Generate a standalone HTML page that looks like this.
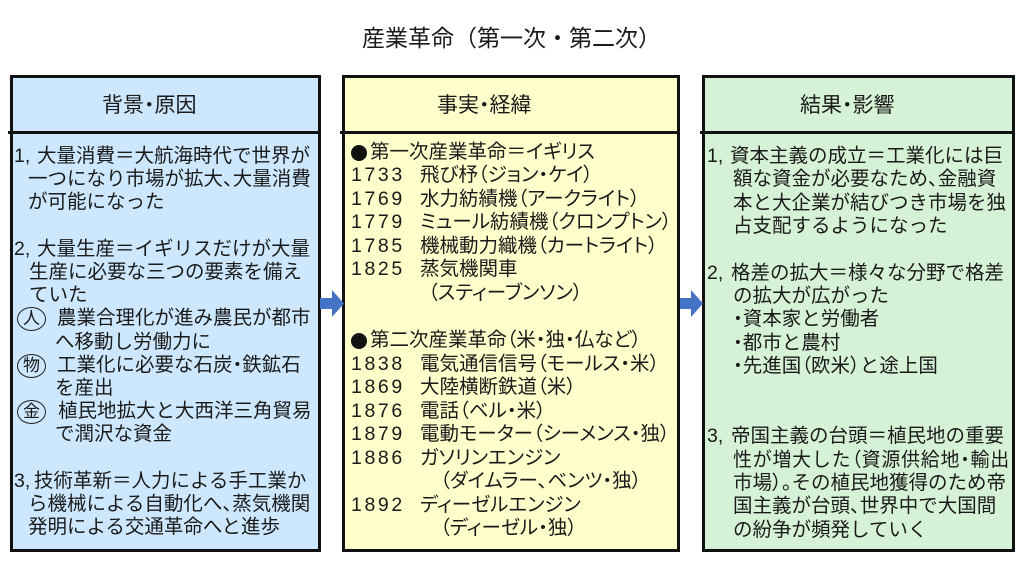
<!DOCTYPE html>
<html lang="ja">
<head>
<meta charset="utf-8">
<style>
html,body{margin:0;padding:0;background:#fff;}
body{position:relative;width:1024px;height:561px;overflow:hidden;
 font-family:"Liberation Sans","Noto Sans CJK JP",sans-serif;color:#1a1a1a;}
.box{position:absolute;top:75px;height:477px;box-sizing:border-box;border:3px solid #111;}
.div{position:absolute;top:131px;height:3px;background:#111;}
.ln{position:absolute;white-space:nowrap;font-size:19.5px;line-height:24px;height:24px;}
.g2 .ln{font-feature-settings:"palt";}
.g2 .ln.yr{font-feature-settings:normal;letter-spacing:2.6px;font-family:"Liberation Sans",sans-serif;}
.p{font-feature-settings:"palt";}
.pre{font-family:"Liberation Sans",sans-serif;}
.hd{position:absolute;white-space:nowrap;font-size:21px;line-height:26px;top:93px;font-feature-settings:"palt";}
.title{position:absolute;left:362px;top:23px;font-size:23px;line-height:30px;white-space:nowrap;}
.circ{position:absolute;box-sizing:border-box;width:29px;height:24px;border:1.4px solid #222;border-radius:50%;
 font-size:17px;line-height:21px;text-align:center;}
.dot{position:absolute;width:16px;height:16px;border-radius:50%;background:#111;}
</style>
</head>
<body>

<div class="title">産業革命（第一次・第二次）</div>

<!-- boxes -->
<div class="box" style="left:10px;width:311px;background:#CDE8FE;"></div>
<div class="div" style="left:8px;width:313px;"></div>
<div class="box" style="left:342px;width:338px;background:#FFFFCC;"></div>
<div class="div" style="left:340px;width:340px;"></div>
<div class="box" style="left:702px;width:313px;background:#D6F2D6;"></div>
<div class="div" style="left:700px;width:315px;"></div>

<!-- arrows -->
<svg style="position:absolute;left:0;top:0" width="1024" height="561">
 <polygon points="320,298 332,298 332,290 344,303.5 332,317 332,309 320,309" fill="#4472C4"/>
 <polygon points="680,298 691,298 691,290 703,303.5 691,317 691,309 680,309" fill="#4472C4"/>
</svg>

<!-- headers -->
<div class="hd" style="left:102px;">背景・原因</div>
<div class="hd" style="left:437px;">事実・経緯</div>
<div class="hd" style="left:800px;">結果・影響</div>

<!-- Box 1 -->
<div class="g1" id="g1">
 <div class="ln pre" style="left:14px;top:144px;">1,</div>
 <div class="ln" style="left:37px;top:144px;">大量消費＝大航海時代で世界が</div>
 <div class="ln" style="left:28px;top:167px;">一つになり市場が拡大<span class="p">、</span>大量消費</div>
 <div class="ln" style="left:28px;top:190px;">が可能になった</div>

 <div class="ln pre" style="left:14px;top:237px;">2,</div>
 <div class="ln" style="left:37px;top:237px;">大量生産＝イギリスだけが大量</div>
 <div class="ln" style="left:29px;top:260px;">生産に必要な三つの要素を備え</div>
 <div class="ln" style="left:29px;top:283px;">ていた</div>

 <div class="circ" style="left:17px;top:307px;">人</div>
 <div class="ln" style="left:57px;top:306px;">農業合理化が進み農民が都市</div>
 <div class="ln" style="left:55px;top:330px;">へ移動し労働力に</div>
 <div class="circ" style="left:17px;top:354px;">物</div>
 <div class="ln" style="left:57px;top:353px;">工業化に必要な石炭<span class="p">・</span>鉄鉱石</div>
 <div class="ln" style="left:55px;top:376px;">を産出</div>
 <div class="circ" style="left:17px;top:400px;">金</div>
 <div class="ln" style="left:58px;top:399px;">植民地拡大と大西洋三角貿易</div>
 <div class="ln" style="left:55px;top:422px;">で潤沢な資金</div>

 <div class="ln pre" style="left:14px;top:469px;">3,</div>
 <div class="ln" style="left:34px;top:469px;">技術革新＝人力による手工業か</div>
 <div class="ln" style="left:28px;top:492px;">ら機械による自動化へ<span class="p">、</span>蒸気機関</div>
 <div class="ln" style="left:28px;top:515px;">発明による交通革命へと進歩</div>
</div>

<!-- Box 2 -->
<div class="g2" id="g2">
 <div class="dot" style="left:351px;top:145px;"></div>
 <div class="ln" style="left:370px;top:140px;">第一次産業革命＝イギリス</div>
 <div class="ln yr" style="left:351px;top:163px;">1733</div>
 <div class="ln" style="left:420px;top:163px;">飛び杼（ジョン・ケイ）</div>
 <div class="ln yr" style="left:351px;top:187px;">1769</div>
 <div class="ln" style="left:420px;top:187px;">水力紡績機（アークライト）</div>
 <div class="ln yr" style="left:351px;top:210px;">1779</div>
 <div class="ln" style="left:420px;top:210px;">ミュール紡績機（クロンプトン）</div>
 <div class="ln yr" style="left:351px;top:234px;">1785</div>
 <div class="ln" style="left:420px;top:234px;">機械動力織機（カートライト）</div>
 <div class="ln yr" style="left:351px;top:257px;">1825</div>
 <div class="ln" style="left:420px;top:257px;">蒸気機関車</div>
 <div class="ln" style="left:428px;top:281px;">（スティーブンソン）</div>

 <div class="dot" style="left:351px;top:333px;"></div>
 <div class="ln" style="left:370px;top:328px;">第二次産業革命（米・独・仏など）</div>
 <div class="ln yr" style="left:351px;top:352px;">1838</div>
 <div class="ln" style="left:420px;top:352px;">電気通信信号（モールス・米）</div>
 <div class="ln yr" style="left:351px;top:375px;">1869</div>
 <div class="ln" style="left:420px;top:375px;">大陸横断鉄道（米）</div>
 <div class="ln yr" style="left:351px;top:399px;">1876</div>
 <div class="ln" style="left:420px;top:399px;">電話（ベル・米）</div>
 <div class="ln yr" style="left:351px;top:422px;">1879</div>
 <div class="ln" style="left:420px;top:422px;">電動モーター（シーメンス・独）</div>
 <div class="ln yr" style="left:351px;top:446px;">1886</div>
 <div class="ln" style="left:420px;top:446px;">ガソリンエンジン</div>
 <div class="ln" style="left:440px;top:469px;">（ダイムラー、ベンツ・独）</div>
 <div class="ln yr" style="left:351px;top:493px;">1892</div>
 <div class="ln" style="left:420px;top:493px;">ディーゼルエンジン</div>
 <div class="ln" style="left:440px;top:516px;">（ディーゼル・独）</div>
</div>

<!-- Box 3 -->
<div class="g3" id="g3">
 <div class="ln pre" style="left:707px;top:144px;">1,</div>
 <div class="ln" style="left:730px;top:144px;">資本主義の成立＝工業化には巨</div>
 <div class="ln" style="left:733px;top:167px;">額な資金が必要なため<span class="p">、</span>金融資</div>
 <div class="ln" style="left:733px;top:191px;">本と大企業が結びつき市場を独</div>
 <div class="ln" style="left:733px;top:214px;">占支配するようになった</div>

 <div class="ln pre" style="left:707px;top:261px;">2,</div>
 <div class="ln" style="left:731px;top:261px;">格差の拡大＝様々な分野で格差</div>
 <div class="ln" style="left:733px;top:284px;">の拡大が広がった</div>
 <div class="ln" style="left:733px;top:307px;"><span class="p">・</span>資本家と労働者</div>
 <div class="ln" style="left:733px;top:331px;"><span class="p">・</span>都市と農村</div>
 <div class="ln" style="left:733px;top:354px;"><span class="p">・</span>先進国<span class="p">（</span>欧米<span class="p">）</span>と途上国</div>

 <div class="ln pre" style="left:707px;top:424px;">3,</div>
 <div class="ln" style="left:731px;top:424px;">帝国主義の台頭＝植民地の重要</div>
 <div class="ln" style="left:733px;top:448px;letter-spacing:0.8px;">性が増大した<span class="p">（</span>資源供給地<span class="p">・</span>輸出</div>
 <div class="ln" style="left:733px;top:471px;">市場<span class="p">）。</span>その植民地獲得のため帝</div>
 <div class="ln" style="left:733px;top:494px;">国主義が台頭<span class="p">、</span>世界中で大国間</div>
 <div class="ln" style="left:733px;top:518px;">の紛争が頻発していく</div>
</div>

<script>
(function(){
 var lims={g1:316,g2:675,g3:1010};
 function fit(){
  for(var id in lims){
   var g=document.getElementById(id); if(!g) continue;
   var lim=lims[id];
   var ls=g.querySelectorAll('.ln');
   for(var i=0;i<ls.length;i++){
    var el=ls[i];
    el.style.transform='';
    var r=el.getBoundingClientRect();
    if(r.right>lim && r.width>0){
     el.style.transformOrigin='0 50%';
     el.style.transform='scaleX('+((lim-r.left)/r.width)+')';
    }
   }
  }
 }
 fit();
 if(document.fonts&&document.fonts.ready){document.fonts.ready.then(fit);}
 window.addEventListener('load',fit);
})();
</script>
</body>
</html>
